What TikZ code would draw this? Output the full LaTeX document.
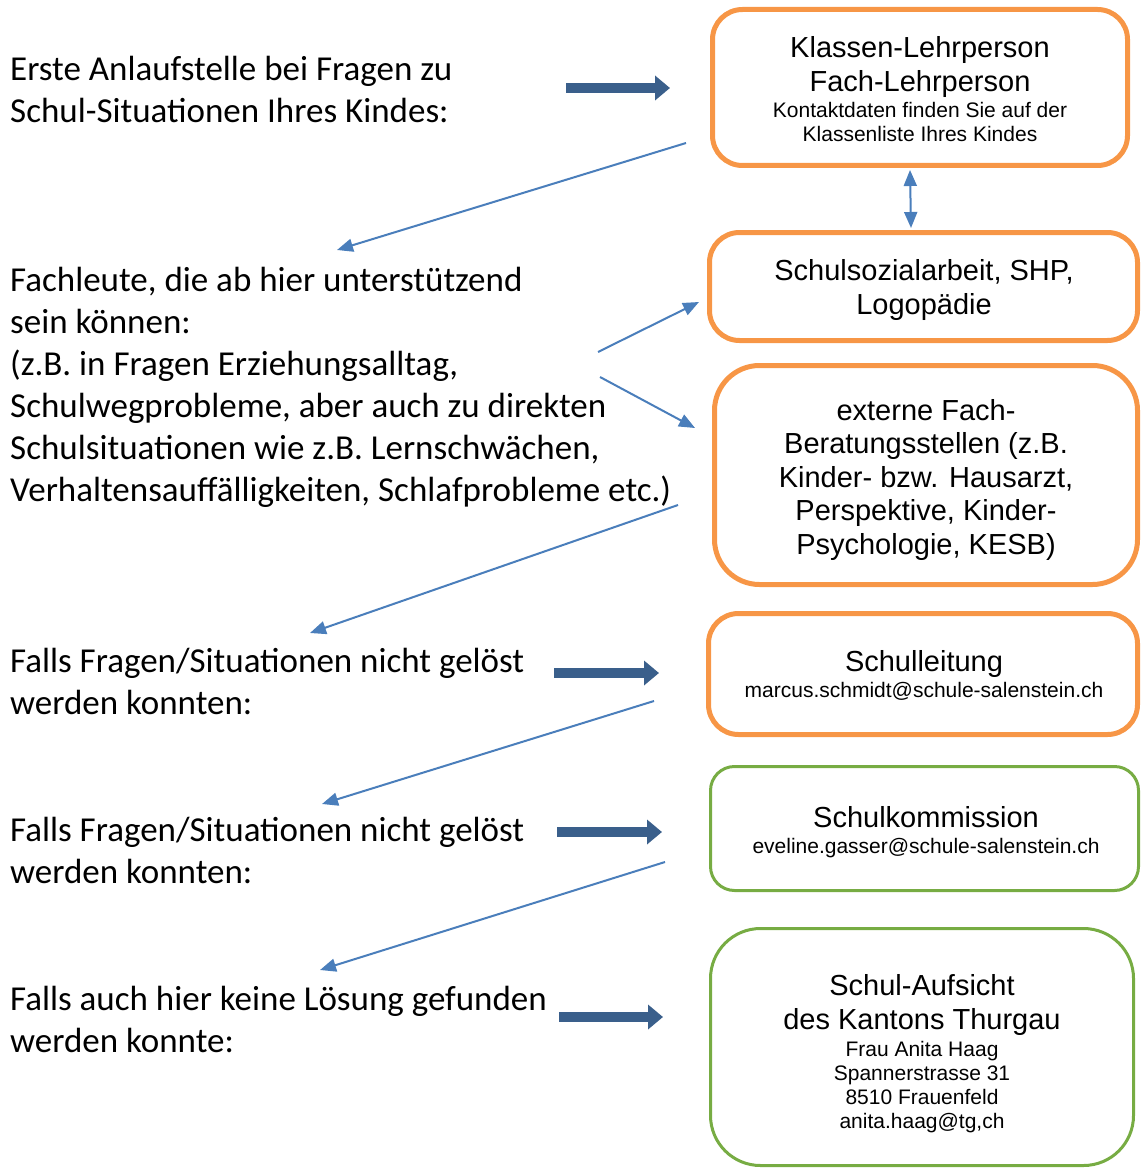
\documentclass[tikz,border=0pt]{standalone}
\usepackage{fontspec}
\usetikzlibrary{arrows.meta}
\newfontfamily\calib{Carlito}
\newfontfamily\arialf{Liberation Sans}
\definecolor{boxorange}{HTML}{F79646}
\definecolor{boxgreen}{HTML}{77AC43}
\definecolor{arrowdark}{HTML}{3A5F8B}
\definecolor{arrowblue}{HTML}{4A7EBB}
\tikzset{
  lefttext/.style={font=\calib\fontsize{35}{42}\selectfont, align=left, anchor=north west, inner sep=0pt},
  bigtext/.style={font=\arialf\fontsize{29}{34}\selectfont, align=center, anchor=north, inner sep=0pt},
  smalltext/.style={font=\arialf\fontsize{21}{24}\selectfont, align=center, anchor=north, inner sep=0pt},
  orangebox/.style={draw=boxorange, line width=5pt, rounded corners=30pt, inner sep=0pt},
  greenbox/.style={draw=boxgreen, line width=3pt, rounded corners=28pt, inner sep=0pt},
  bigarrow/.style={draw=arrowdark, line width=10pt, -{Triangle[length=15pt,width=24pt]}},
  thinarrow/.style={draw=arrowblue, line width=2pt, -{Triangle[length=16pt,width=13pt]}},
  thindouble/.style={draw=arrowblue, line width=2pt, {Triangle[length=16pt,width=13pt]}-{Triangle[length=16pt,width=13pt]}},
}
\begin{document}
\begin{tikzpicture}[x=1pt,y=-1pt]
\useasboundingbox (0,0) rectangle (1142,1169);
% boxes
\node[orangebox, minimum width=415pt, minimum height=156pt] (b1) at (920,87.5) {};
\node[orangebox, minimum width=428pt, minimum height=108pt] (b2) at (923.5,286.5) {};
\node[orangebox, rounded corners=45pt, minimum width=423pt, minimum height=219pt] (b3) at (926,475) {};
\node[orangebox, minimum width=429pt, minimum height=121pt] (b4) at (923,674) {};
\node[greenbox, rounded corners=24pt, minimum width=428pt, minimum height=124pt] (b5) at (924.5,828.5) {};
\node[greenbox, rounded corners=50pt, minimum width=423pt, minimum height=237pt] (b6) at (922,1047) {};
% box texts
\node[bigtext] (t1) at (920,36) {Klassen-Lehrperson\\Fach-Lehrperson};
\node[smalltext] (t1s) at (920,102) {Kontaktdaten finden Sie auf der\\Klassenliste Ihres Kindes};
\node[bigtext] (t2) at (924,259) {Schulsozialarbeit, SHP,\\Logopädie};
\node[bigtext, font=\arialf\fontsize{29}{33.5}\selectfont] (t3) at (926,399) {externe Fach-\\Beratungsstellen (z.B.\\Kinder- bzw. Hausarzt,\\Perspektive, Kinder-\\Psychologie, KESB)};
\node[bigtext] (t4) at (924,650) {Schulleitung};
\node[smalltext] (t4s) at (924,682) {marcus.schmidt@schule-salenstein.ch};
\node[bigtext] (t5) at (926,806) {Schulkommission};
\node[smalltext] (t5s) at (926,838) {eveline.gasser@schule-salenstein.ch};
\node[bigtext] (t6) at (922,974) {Schul-Aufsicht\\des Kantons Thurgau};
\node[smalltext] (t6s) at (922,1041) {Frau Anita Haag\\Spannerstrasse 31\\8510 Frauenfeld\\anita.haag@tg,ch};
% left texts
\node[lefttext] (l1) at (10,56) {Erste Anlaufstelle bei Fragen zu\\Schul-Situationen Ihres Kindes:};
\node[lefttext] (l2) at (10,267) {Fachleute, die ab hier unterstützend\\sein können:\\(z.B. in Fragen Erziehungsalltag,\\Schulwegprobleme, aber auch zu direkten\\Schulsituationen wie z.B. Lernschwächen,\\Verhaltensauffälligkeiten, Schlafprobleme etc.)};
\node[lefttext] (l3) at (10,648) {Falls Fragen/Situationen nicht gelöst\\werden konnten:};
\node[lefttext] (l4) at (10,817) {Falls Fragen/Situationen nicht gelöst\\werden konnten:};
\node[lefttext] (l5) at (10,986) {Falls auch hier keine Lösung gefunden\\werden konnte:};
% arrow coordinates
\coordinate (a1s) at (566,88);  \coordinate (a1e) at (670,88);
\coordinate (a2s) at (554,673); \coordinate (a2e) at (659,673);
\coordinate (a3s) at (557,832); \coordinate (a3e) at (662,832);
\coordinate (a4s) at (559,1017); \coordinate (a4e) at (663,1017);
\draw[bigarrow] (a1s) -- (a1e);
\draw[bigarrow] (a2s) -- (a2e);
\draw[bigarrow] (a3s) -- (a3e);
\draw[bigarrow] (a4s) -- (a4e);
\coordinate (c1s) at (686,143); \coordinate (c1e) at (337,250);
\coordinate (c2s) at (910,170); \coordinate (c2e) at (911,228);
\coordinate (c3s) at (598,352); \coordinate (c3e) at (699,302);
\coordinate (c4s) at (600,377); \coordinate (c4e) at (695,428);
\coordinate (c5s) at (678,505); \coordinate (c5e) at (310,633);
\coordinate (c6s) at (654,701); \coordinate (c6e) at (322,804);
\coordinate (c7s) at (665,862); \coordinate (c7e) at (320,970);
\draw[thinarrow] (c1s) -- (c1e);
\draw[thindouble] (c2s) -- (c2e);
\draw[thinarrow] (c3s) -- (c3e);
\draw[thinarrow] (c4s) -- (c4e);
\draw[thinarrow] (c5s) -- (c5e);
\draw[thinarrow] (c6s) -- (c6e);
\draw[thinarrow] (c7s) -- (c7e);
\end{tikzpicture}
\end{document}
